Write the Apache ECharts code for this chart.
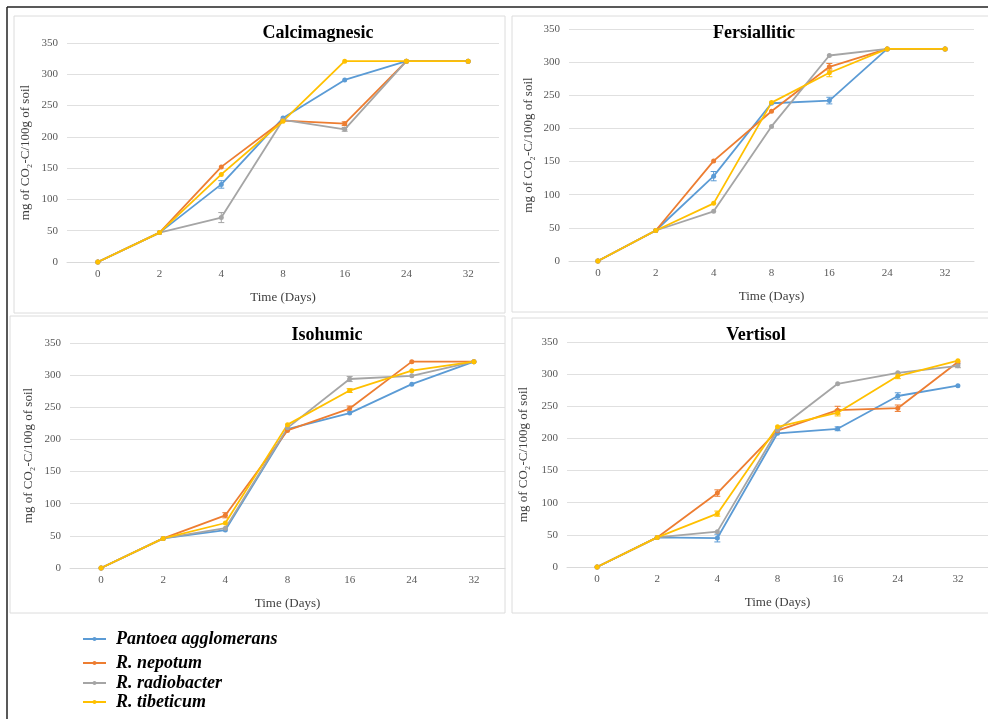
<!DOCTYPE html>
<html>
<head>
<meta charset="utf-8">
<script src="https://cdn.jsdelivr.net/npm/echarts@6/dist/echarts.min.js"></script>
<style>
html,body{margin:0;padding:0;background:#fff;}
#chart{width:988px;height:719px;}
</style>
</head>
<body>
<div id="chart"></div>
<script>
// ---- data ----
var days = ['0', '2', '4', '8', '16', '24', '32'];
var yTicks = [0, 50, 100, 150, 200, 250, 300, 350];
var seriesNames = ['Pantoea agglomerans', 'R. nepotum', 'R. radiobacter', 'R. tibeticum'];
var panelTitles = ['Calcimagnesic', 'Fersiallitic', 'Isohumic', 'Vertisol'];
var xAxisTitle = 'Time (Days)';
var yAxisTitle = 'mg of CO\u2082-C/100g of soil';

// Calcimagnesic
var calcPantoea  = [0, 47, 124, 230, 291, 321, 321];
var calcNepotum  = [0, 47, 152, 226, 221, 321, 321];
var calcRadio    = [0, 47, 71, 227, 212, 321, 321];
var calcTibet    = [0, 47, 140, 225, 321, 321, 321];
var calcPantoeaErr = [0, 0, 6, 0, 0, 0, 0];
var calcNepotumErr = [0, 0, 0, 0, 3, 0, 0];
var calcRadioErr   = [0, 0, 8, 0, 3, 0, 0];
var calcTibetErr   = [0, 0, 0, 0, 0, 0, 0];

// Fersiallitic
var fersPantoea  = [0, 46, 128, 238, 242, 320, 320];
var fersNepotum  = [0, 46, 151, 226, 293, 320, 320];
var fersRadio    = [0, 46, 75, 203, 310, 320, 320];
var fersTibet    = [0, 46, 87, 239, 284, 320, 320];
var fersPantoeaErr = [0, 0, 7, 0, 5, 0, 0];
var fersNepotumErr = [0, 0, 0, 0, 5, 0, 0];
var fersRadioErr   = [0, 0, 0, 0, 0, 0, 0];
var fersTibetErr   = [0, 0, 0, 0, 6, 0, 0];

// Isohumic
var isoPantoea  = [0, 46, 59, 216, 241, 286, 321];
var isoNepotum  = [0, 46, 82, 214, 248, 321, 321];
var isoRadio    = [0, 46, 62, 218, 294, 299, 321];
var isoTibet    = [0, 46, 70, 223, 276, 307, 321];
var isoPantoeaErr = [0, 0, 0, 0, 0, 0, 0];
var isoNepotumErr = [0, 0, 4, 0, 4, 0, 0];
var isoRadioErr   = [0, 0, 0, 0, 4, 0, 0];
var isoTibetErr   = [0, 0, 0, 0, 3, 0, 0];

// Vertisol
var vertPantoea  = [0, 46, 45, 208, 215, 266, 282];
var vertNepotum  = [0, 46, 115, 212, 244, 247, 319];
var vertRadio    = [0, 46, 55, 213, 285, 302, 313];
var vertTibet    = [0, 46, 83, 218, 240, 297, 321];
var vertPantoeaErr = [0, 0, 6, 0, 3, 5, 0];
var vertNepotumErr = [0, 0, 5, 0, 6, 5, 0];
var vertRadioErr   = [0, 0, 0, 0, 0, 0, 3];
var vertTibetErr   = [0, 0, 4, 0, 5, 4, 0];

var panelData = [
  [calcPantoea, calcNepotum, calcRadio, calcTibet],
  [fersPantoea, fersNepotum, fersRadio, fersTibet],
  [isoPantoea, isoNepotum, isoRadio, isoTibet],
  [vertPantoea, vertNepotum, vertRadio, vertTibet]
];
var panelErr = [
  [calcPantoeaErr, calcNepotumErr, calcRadioErr, calcTibetErr],
  [fersPantoeaErr, fersNepotumErr, fersRadioErr, fersTibetErr],
  [isoPantoeaErr, isoNepotumErr, isoRadioErr, isoTibetErr],
  [vertPantoeaErr, vertNepotumErr, vertRadioErr, vertTibetErr]
];

// ---- styling / layout ----
var colors = ['#5B9BD5', '#ED7D31', '#A5A5A5', '#FFC000'];
var serif = '"Liberation Serif", "Times New Roman", serif';
var grids = [
  {left: 67, top: 43, width: 432, height: 219},
  {left: 569, top: 29, width: 405, height: 232},
  {left: 70, top: 343, width: 435, height: 225},
  {left: 567, top: 342, width: 424, height: 225}
];
var titlePos = [
  {x: 313, y: 28}, {x: 749, y: 28}, {x: 322, y: 330}, {x: 751, y: 330}
];
var yNameGap = [35, 34, 35, 37];
var legendTops = [639, 663, 683, 702];

var chart = echarts.init(document.getElementById('chart'), null, {renderer: 'canvas'});

var xAxes = [], yAxes = [], series = [], titles = [], legends = [];
for (var p = 0; p < 4; p++) {
  xAxes.push({
    type: 'category', gridIndex: p, data: days, boundaryGap: true,
    axisLine: {lineStyle: {color: '#d9d9d9'}},
    axisTick: {show: false},
    axisLabel: {color: '#595959', fontFamily: serif, fontSize: 11, margin: 7},
    name: xAxisTitle, nameLocation: 'middle', nameGap: 29,
    nameTextStyle: {color: '#404040', fontFamily: serif, fontSize: 13}
  });
  yAxes.push({
    type: 'value', gridIndex: p, min: yTicks[0], max: yTicks[yTicks.length - 1], interval: 50,
    axisLine: {show: false}, axisTick: {show: false},
    splitLine: {lineStyle: {color: '#e0e0e0', width: 1}},
    axisLabel: {color: '#595959', fontFamily: serif, fontSize: 11, margin: 9},
    name: yAxisTitle, nameLocation: 'middle', nameGap: yNameGap[p], nameRotate: 90,
    nameTextStyle: {color: '#404040', fontFamily: serif, fontSize: 13}
  });
  titles.push({
    text: panelTitles[p], left: titlePos[p].x, top: titlePos[p].y,
    textAlign: 'center', textVerticalAlign: 'middle',
    textStyle: {fontFamily: serif, fontWeight: 'bold', fontSize: 18, color: '#000'}
  });
  for (var s = 0; s < 4; s++) {
    series.push({
      type: 'line', name: seriesNames[s], xAxisIndex: p, yAxisIndex: p,
      data: panelData[p][s], color: colors[s],
      symbol: 'circle', symbolSize: 5, showSymbol: true,
      lineStyle: {width: 1.8, color: colors[s]},
      itemStyle: {color: colors[s]},
      z: 3, animation: false
    });
    (function (pp, ss) {
      var errData = [];
      panelData[pp][ss].forEach(function (v, i) {
        errData.push([i, v, panelErr[pp][ss][i]]);
      });
      series.push({
        type: 'custom', name: 'err' + pp + '-' + ss, xAxisIndex: pp, yAxisIndex: pp,
        data: errData, z: 2, animation: false, silent: true,
        renderItem: function (params, api) {
          var e = api.value(2);
          if (!e) return null;
          var x = api.value(0), v = api.value(1);
          var hi = api.coord([x, v + e]);
          var lo = api.coord([x, v - e]);
          var cw = 3;
          var st = {stroke: colors[ss], lineWidth: 1};
          return {
            type: 'group',
            children: [
              {type: 'line', shape: {x1: hi[0], y1: hi[1], x2: lo[0], y2: lo[1]}, style: st},
              {type: 'line', shape: {x1: hi[0] - cw, y1: hi[1], x2: hi[0] + cw, y2: hi[1]}, style: st},
              {type: 'line', shape: {x1: lo[0] - cw, y1: lo[1], x2: lo[0] + cw, y2: lo[1]}, style: st}
            ]
          };
        }
      });
    })(p, s);
  }
}

for (var k = 0; k < 4; k++) {
  legends.push({
    data: [seriesNames[k]], left: 82, top: legendTops[k] - 10, padding: 0,
    itemWidth: 23, itemHeight: 5, selectedMode: false,
    textStyle: {fontFamily: serif, fontStyle: 'italic', fontWeight: 'bold', fontSize: 18,
      color: '#000', padding: [0, 0, 0, 5], lineHeight: 20}
  });
}

var option = {
  backgroundColor: '#ffffff',
  animation: false,
  title: titles,
  legend: legends,
  grid: grids,
  xAxis: xAxes,
  yAxis: yAxes,
  series: series,
  graphic: [
    {type: 'rect', shape: {x: 14, y: 16, width: 491, height: 297}, style: {fill: 'none', stroke: '#dcdcdc', lineWidth: 1}, z: -1, silent: true},
    {type: 'rect', shape: {x: 512, y: 16, width: 480, height: 296}, style: {fill: 'none', stroke: '#dcdcdc', lineWidth: 1}, z: -1, silent: true},
    {type: 'rect', shape: {x: 10, y: 316, width: 495, height: 297}, style: {fill: 'none', stroke: '#dcdcdc', lineWidth: 1}, z: -1, silent: true},
    {type: 'rect', shape: {x: 512, y: 318, width: 480, height: 295}, style: {fill: 'none', stroke: '#dcdcdc', lineWidth: 1}, z: -1, silent: true},
    {type: 'line', shape: {x1: 7, y1: 7, x2: 988, y2: 7}, style: {stroke: '#222', lineWidth: 1.5}, silent: true},
    {type: 'line', shape: {x1: 7, y1: 7, x2: 7, y2: 719}, style: {stroke: '#222', lineWidth: 1.5}, silent: true}
  ]
};
chart.setOption(option);
</script>
</body>
</html>
